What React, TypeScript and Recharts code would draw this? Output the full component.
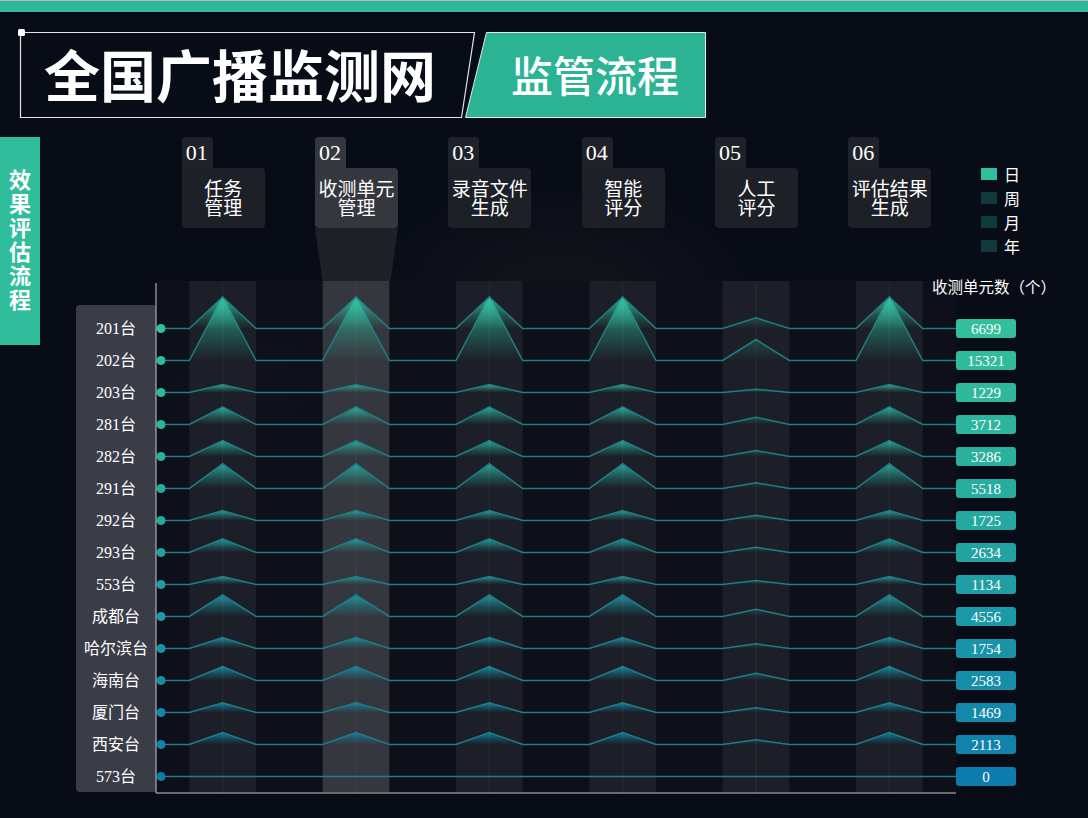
import React from "react";
import {
  ComposedChart,
  Area,
  XAxis,
  YAxis,
  ReferenceArea,
  ReferenceLine,
  LabelList,
} from "recharts";

// stations, top to bottom
const stations = [
  "201台", "202台", "203台", "281台", "282台", "291台", "292台", "293台",
  "553台", "成都台", "哈尔滨台", "海南台", "厦门台", "西安台", "573台",
];

// 收测单元数（个）
const totals = [6699, 15321, 1229, 3712, 3286, 5518, 1725, 2634, 1134, 4556, 1754, 2583, 1469, 2113, 0];

const stageNo = ["01", "02", "03", "04", "05", "06"];
const stageNames = [
  ["任务", "管理"],
  ["收测单元", "管理"],
  ["录音文件", "生成"],
  ["智能", "评分"],
  ["人工", "评分"],
  ["评估结果", "生成"],
];

const legendItems = ["日", "周", "月", "年"];

// peak height of every station at every stage (chart units)
const peaks = [
  [31.5, 31.5, 31.5, 31.5, 10.7, 31.5],
  [63.5, 63.5, 63.5, 63.5, 21, 63.5],
  [8, 8, 8, 8, 3.3, 8],
  [17.7, 17.7, 17.7, 17.7, 7.3, 17.7],
  [15.8, 15.8, 15.8, 15.8, 6, 15.8],
  [24.7, 24.7, 24.7, 24.7, 5.7, 24.7],
  [10, 10, 10, 10, 5.3, 10],
  [13.7, 13.7, 13.7, 13.7, 5.3, 13.7],
  [8, 8, 8, 8, 4, 8],
  [21.5, 21.5, 21.5, 21.5, 7.3, 21.5],
  [11, 11, 11, 11, 4.7, 11],
  [14, 14, 14, 14, 7.3, 14],
  [9.7, 9.7, 9.7, 9.7, 4.7, 9.7],
  [12, 12, 12, 12, 4.7, 12],
  [0, 0, 0, 0, 0, 0],
];

const rowColors = [
  "#33bf9c", "#30bb9b", "#2fb89b", "#2db49c", "#2bb09d", "#28ac9e", "#25a8a0", "#22a3a2",
  "#1f9ea4", "#1c99a6", "#1993a8", "#168ea9", "#1388aa", "#1082ab", "#0d7bac",
];

const Y_MAX = 510;
const X_MAX = 24;
const baseOf = (i: number) => 464.5 - 32 * i;

// line knots: flat, then up to each stage centre and back down
const knots: { x: number; stage: number }[] = [{ x: 0, stage: -1 }];
stageNo.forEach((_, s) => {
  knots.push({ x: 4 * s + 1, stage: -1 });
  knots.push({ x: 4 * s + 2, stage: s });
  knots.push({ x: 4 * s + 3, stage: -1 });
});
knots.push({ x: X_MAX, stage: -1 });

const data = knots.map((k) => {
  const row: Record<string, number> = { x: k.x };
  stations.forEach((_, i) => {
    row["r" + i] = baseOf(i) + (k.stage >= 0 ? peaks[i][k.stage] : 0);
  });
  return row;
});

const lightBands = [[1, 3], [9, 11], [13, 15], [17, 19], [21, 23]];
const hiBand = [5, 7];

const serif = '"Liberation Serif", "Noto Sans CJK SC", serif';
const sans = '"Noto Sans CJK SC", "Noto Sans", sans-serif';

const PLOT_L = 156;
const PLOT_R = 956;
const PLOT_T = 283;
const PLOT_B = 793;
const colX = (s: number) => PLOT_L + ((PLOT_R - PLOT_L) / X_MAX) * (4 * s + 2);

function StageHeaders() {
  return (
    <>
      {stageNo.map((no, s) => {
        const left = colX(s) - 41;
        const on = s === 1;
        return (
          <React.Fragment key={no}>
            <div
              style={{
                position: "absolute", left, top: 137, width: 31, height: 31,
                background: on ? "#35373f" : "#202229", borderRadius: "4px 4px 0 0",
                color: "#fff", fontFamily: serif, fontSize: 22, lineHeight: "31px", paddingLeft: 4,
                boxSizing: "border-box",
              }}
            >
              {no}
            </div>
            <div
              style={{
                position: "absolute", left, top: 168, width: 83, height: 60,
                background: on ? "#35373f" : "#1e2027", borderRadius: "0 4px 4px 4px",
                color: "#fff", fontFamily: sans, fontSize: 19, lineHeight: "19px",
                textAlign: "center", paddingTop: 10, boxSizing: "border-box", whiteSpace: "nowrap",
              }}
            >
              {stageNames[s][0]}
              <br />
              {stageNames[s][1]}
            </div>
            {on && (
              <div
                style={{
                  position: "absolute", left, top: 228, width: 83, height: PLOT_T - 230,
                  background: "#1f2129",
                  clipPath: "polygon(0 0, 100% 0, 91% 100%, 9% 100%)",
                }}
              />
            )}
          </React.Fragment>
        );
      })}
    </>
  );
}

export default function App() {
  const order = stations.map((_, i) => i).reverse();
  return (
    <div
      style={{
        position: "absolute", left: 0, top: 0, width: 1088, height: 818, overflow: "hidden",
        background:
          "radial-gradient(ellipse 160px 90px at 250px 380px, rgba(110,95,60,0.16), transparent)," +
          "radial-gradient(ellipse 200px 120px at 560px 300px, rgba(110,95,60,0.12), transparent)," +
          "radial-gradient(ellipse 220px 140px at 760px 560px, rgba(110,95,60,0.08), transparent)," +
          "#080c17",
        fontFamily: sans,
      }}
    >
      <div style={{ position: "absolute", left: 0, top: 0, width: 1088, height: 12, background: "#2fb99a", borderTop: "1px solid #b5bdbb", boxSizing: "border-box" }} />

      <svg style={{ position: "absolute", left: 0, top: 0 }} width={720} height={130}>
        <polygon points="20.5,32.5 474.5,32.5 461.5,117.5 20.5,117.5" fill="none" stroke="#e4e4e4" strokeWidth={1.2} />
        <rect x={18} y={29} width={7} height={7} rx={1.5} fill="#ffffff" />
        <polygon points="486.5,32.5 705.5,32.5 705.5,117.5 465.5,117.5" fill="#2bb394" stroke="#dfeee9" strokeWidth={1} />
        <text x={44} y={97} fill="#fff" fontSize={56} fontWeight={700} fontFamily={sans}>全国广播监测网</text>
        <text x={511} y={92} fill="#fff" fontSize={42} fontWeight={500} fontFamily={sans}>监管流程</text>
      </svg>

      <div
        style={{
          position: "absolute", left: 0, top: 137, width: 40, height: 208, background: "#2fbd9b",
          display: "flex", alignItems: "center", justifyContent: "center",
        }}
      >
        <div style={{ writingMode: "vertical-rl", color: "#fff", fontSize: 22, fontWeight: 700, lineHeight: "24px", letterSpacing: 2 }}>
          效果评估流程
        </div>
      </div>

      <StageHeaders />

      {legendItems.map((t, i) => (
        <div key={t} style={{ position: "absolute", left: 981, top: 164 + i * 24, height: 20, display: "flex", alignItems: "center", color: "#fff", fontSize: 16 }}>
          <span style={{ display: "inline-block", width: 16, height: 12, background: i === 0 ? "#2fbf9f" : "#103a3c", marginRight: 7 }} />
          {t}
        </div>
      ))}

      <div style={{ position: "absolute", left: 76, top: 305, width: 81, height: 487, background: "#3a3c47", borderRadius: 4 }} />
      <div style={{ position: "absolute", left: PLOT_L, top: PLOT_T - 2, width: PLOT_R - PLOT_L, height: PLOT_B - PLOT_T + 2, background: "rgba(14,17,26,0.85)" }} />

      <div style={{ position: "absolute", left: 0, top: 0 }}>
        <ComposedChart
          width={1088}
          height={818}
          data={data}
          margin={{ top: PLOT_T, right: 1088 - PLOT_R, bottom: 818 - PLOT_B, left: PLOT_L }}
        >
          <defs>
            {stations.map((_, i) => (
              <linearGradient key={i} id={"peak" + i} x1="0" y1="0" x2="0" y2="1">
                <stop offset="0%" stopColor={rowColors[i]} stopOpacity={0.95} />
                <stop offset="55%" stopColor={rowColors[i]} stopOpacity={0.35} />
                <stop offset="100%" stopColor={rowColors[i]} stopOpacity={0} />
              </linearGradient>
            ))}
          </defs>
          <XAxis
            type="number"
            dataKey="x"
            domain={[0, X_MAX]}
            allowDataOverflow
            ticks={[0, X_MAX]}
            height={0}
            tickSize={5}
            tick={{ fill: "transparent" }}
            axisLine={{ stroke: "#c8c8c8" }}
            tickLine={{ stroke: "#c8c8c8" }}
          />
          <YAxis
            type="number"
            domain={[0, Y_MAX]}
            allowDataOverflow
            ticks={[Y_MAX]}
            width={0}
            tickSize={4}
            tick={{ fill: "transparent" }}
            axisLine={{ stroke: "#c8c8c8" }}
            tickLine={{ stroke: "#c8c8c8" }}
          />
          {lightBands.map(([a, b]) => (
            <ReferenceArea key={a} x1={a} x2={b} y1={1} y2={Y_MAX + 2} ifOverflow="visible" fill="#1c1f27" fillOpacity={1} stroke="none" />
          ))}
          <ReferenceArea x1={hiBand[0]} x2={hiBand[1]} y1={1} y2={Y_MAX + 2} ifOverflow="visible" fill="#35373f" fillOpacity={1} stroke="none" />
          {stageNo.map((_, s) => (
            <ReferenceLine key={s} x={4 * s + 2} stroke="rgba(255,255,255,0.06)" />
          ))}
          <ReferenceLine x={0} stroke="#c8c8c8" />
          <ReferenceLine y={0} stroke="#c8c8c8" />
          {order.map((i) => (
            <Area
              key={i}
              type="linear"
              dataKey={"r" + i}
              baseValue={baseOf(i)}
              stroke="#1f7d87"
              strokeWidth={1.5}
              fill={`url(#peak${i})`}
              fillOpacity={1}
              activeDot={false}
              dot={false}
              isAnimationActive={false}
            >
              <LabelList
                dataKey={"r" + i}
                content={(p: any) => {
                  if (p.index === 0) {
                    return (
                      <g key="n">
                        <circle cx={p.x + 5} cy={p.y} r={4.5} fill={rowColors[i]} />
                        <text x={p.x - 40} y={p.y + 5.5} textAnchor="middle" fill="#fff" fontSize={16} fontFamily={serif}>
                          {stations[i]}
                        </text>
                      </g>
                    );
                  }
                  if (p.index === data.length - 1) {
                    return (
                      <g key="v">
                        <rect x={p.x} y={p.y - 9.5} width={60} height={19} rx={3} fill={rowColors[i]} />
                        <text x={p.x + 30} y={p.y + 5.5} textAnchor="middle" fill="#fff" fontSize={15} fontFamily={serif}>
                          {totals[i]}
                        </text>
                      </g>
                    );
                  }
                  return <g key={"e" + p.index} />;
                }}
              />
            </Area>
          ))}
        </ComposedChart>
      </div>

      <div style={{ position: "absolute", left: 932, top: 275, color: "#fff", fontSize: 15.5, whiteSpace: "nowrap" }}>收测单元数（个）</div>
    </div>
  );
}
